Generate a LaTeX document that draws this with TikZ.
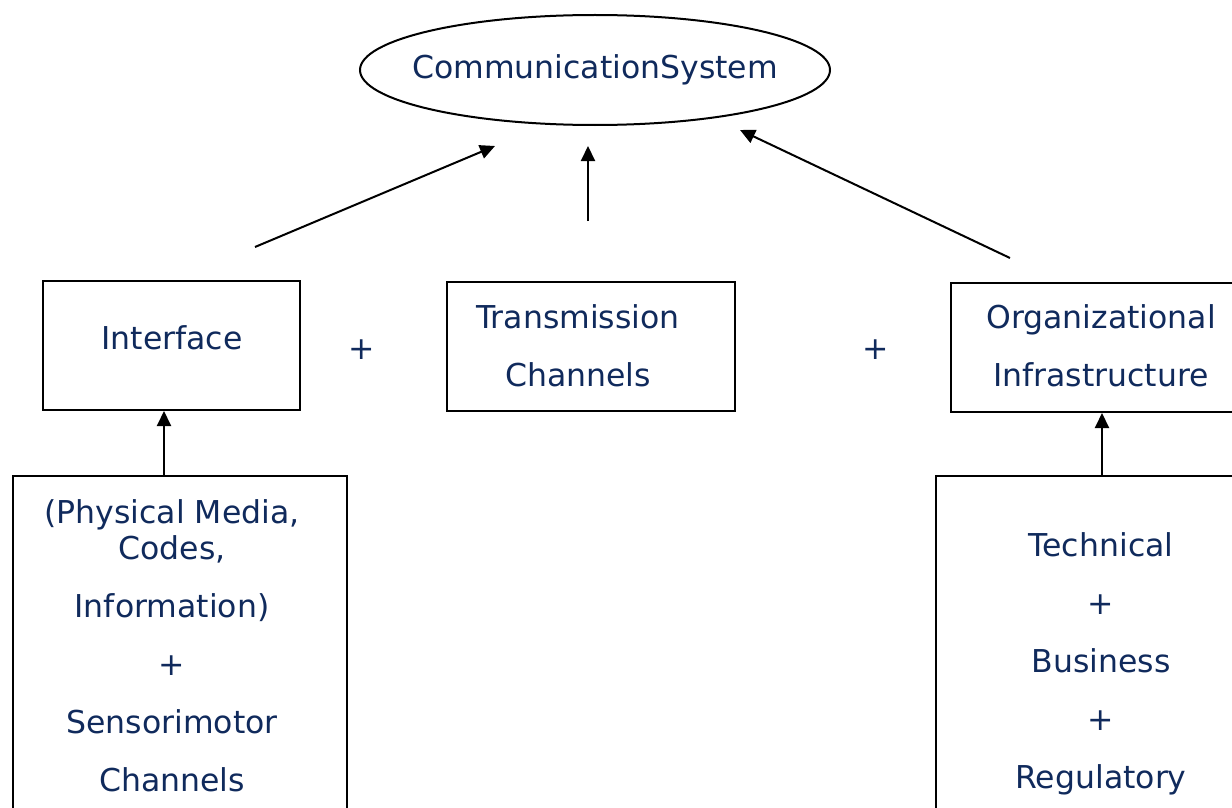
\documentclass[tikz,border=0pt]{standalone}
\usepackage{fontspec}
\setmainfont{DejaVu Sans}
\usetikzlibrary{shapes.geometric,arrows.meta}
\definecolor{textblue}{RGB}{16,42,92}
\tikzset{
  boxshape/.style={draw=black,line width=2pt,rectangle,inner sep=0pt},
  txt/.style={text=textblue,inner sep=0pt,align=center,font=\fontsize{31.5}{58}\selectfont},
  arr/.style={line width=2pt,-{Triangle[length=15pt,width=14pt]}}
}
\begin{document}
\begin{tikzpicture}[x=1pt,y=-1pt]
\useasboundingbox (0,0) rectangle (1232,808);
\clip (0,0) rectangle (1232,808);
% top ellipse
\node[draw=black,line width=2pt,ellipse,minimum width=470pt,minimum height=110pt,inner sep=0pt] (cs) at (595,70) {};
\node[txt] (cst) at (595,70) {CommunicationSystem};
% middle boxes
\node[boxshape,minimum width=257pt,minimum height=129pt] (ifb) at (171.5,345.5) {};
\node[txt] (ift) at (172,338) {Interface};
\node[boxshape,minimum width=288pt,minimum height=129pt] (trb) at (591,346.5) {};
\node[txt] (trt) at (578,346) {Transmission\\Channels};
\node[boxshape,minimum width=320pt,minimum height=129pt,anchor=north west] (orb) at (950,282) {};
\node[txt] (ort) at (1101,346) {Organizational\\Infrastructure};
\node[txt] (p1) at (362,350) {+};
\node[txt] (p2) at (876,350) {+};
% bottom boxes
\node[boxshape,minimum width=334pt,minimum height=400pt,anchor=north west] (blb) at (12,475) {};
\node[txt] (blt) at (172,646) {(Physical Media,\\[-22pt]Codes,\\Information)\\+\\Sensorimotor\\Channels};
\node[boxshape,minimum width=340pt,minimum height=400pt,anchor=north west] (brb) at (935,475) {};
\node[txt] (brt) at (1101,664) {Technical\\+\\Business\\+\\Regulatory};
% connector end points
\coordinate (a1s) at (255,247);
\coordinate (a1e) at (495,146);
\coordinate (a2s) at (588,221);
\coordinate (a2e) at (588,146);
\coordinate (a3s) at (1010,258);
\coordinate (a3e) at (740,130);
\draw[arr] (a1s) -- (a1e);
\draw[arr] (a2s) -- (a2e);
\draw[arr] (a3s) -- (a3e);
\draw[arr] (blb.north west -| ifb.south) ++(-7.5,0) coordinate (bls) -- (ifb.south -| bls);
\draw[arr] (1102,475) coordinate (brs) -- (orb.south -| brs);
\end{tikzpicture}
\end{document}
